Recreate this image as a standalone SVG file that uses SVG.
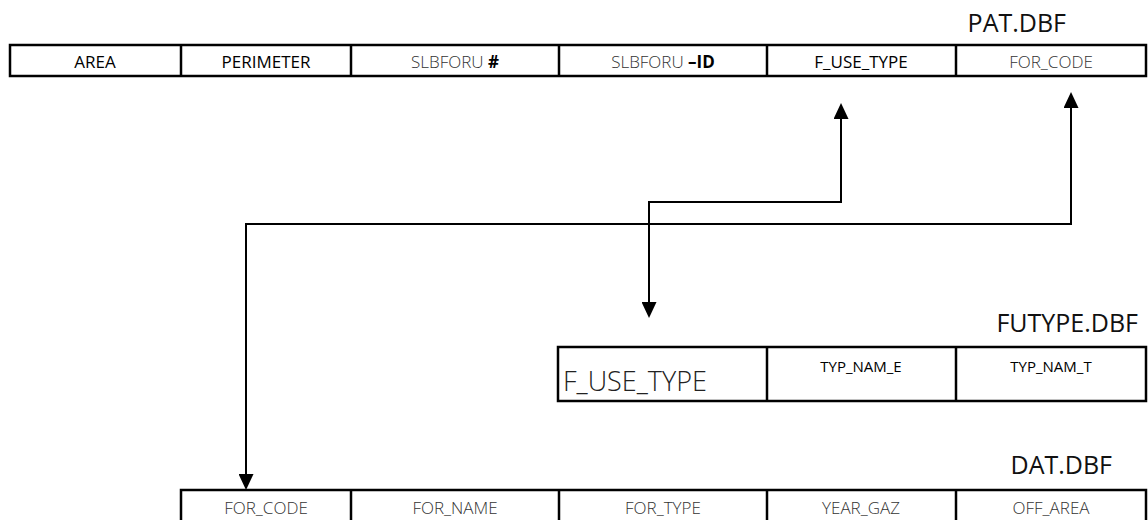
<svg xmlns="http://www.w3.org/2000/svg" width="1148" height="520" viewBox="0 0 1148 520">
<style>
.tbl{fill:#fff;stroke:#000;stroke-width:2.5}
.div{stroke:#000;stroke-width:2.5}
.t{font-family:"Open Sans","Noto Sans",sans-serif;text-anchor:middle;font-size:17px}
.dk{fill:#000;font-weight:500}
.lt{fill:#333;font-weight:300}
.b{font-weight:700;fill:#000}
.ttl{font-family:"Open Sans","Noto Sans",sans-serif;font-size:25px;fill:#111;text-anchor:end}
.conn{fill:none;stroke:#000;stroke-width:2}
</style>
<defs>
<marker id="arr" viewBox="0 0 16 15" refX="13" refY="7.5" markerWidth="16" markerHeight="15" markerUnits="userSpaceOnUse" orient="auto-start-reverse">
<path d="M0,0 L16,7.5 L0,15 z" fill="#000"/>
</marker>
</defs>
<rect width="1148" height="520" fill="#fff"/>
<g id="node-pat">
<text class="ttl" x="1066" y="32">PAT.DBF</text>
<rect class="tbl" x="10" y="45" width="1136" height="31"/>
<line class="div" x1="181" y1="45" x2="181" y2="76"/>
<line class="div" x1="351" y1="45" x2="351" y2="76"/>
<line class="div" x1="559" y1="45" x2="559" y2="76"/>
<line class="div" x1="767" y1="45" x2="767" y2="76"/>
<line class="div" x1="956" y1="45" x2="956" y2="76"/>
<text class="t dk" x="95" y="68">AREA</text>
<text class="t dk" x="266" y="68">PERIMETER</text>
<text class="t lt" x="455" y="68">SLBFORU <tspan class="b">#</tspan></text>
<text class="t lt" x="663" y="68">SLBFORU <tspan class="b">–ID</tspan></text>
<text class="t dk" x="861" y="68">F_USE_TYPE</text>
<text class="t lt" x="1051" y="68">FOR_CODE</text>
</g>
<g id="node-futype">
<text class="ttl" x="1138" y="332">FUTYPE.DBF</text>
<rect class="tbl" x="558" y="347" width="588" height="54"/>
<line class="div" x1="767" y1="347" x2="767" y2="401"/>
<line class="div" x1="956" y1="347" x2="956" y2="401"/>
<text x="563" y="391" style="font-family:'Open Sans','Noto Sans',sans-serif;font-size:27px;fill:#222;font-weight:300">F_USE_TYPE</text>
<text class="t" x="861" y="372" style="font-size:15px;fill:#000">TYP_NAM_E</text>
<text class="t" x="1051" y="372" style="font-size:15px;fill:#000">TYP_NAM_T</text>
</g>
<g id="node-dat">
<text class="ttl" x="1112" y="474">DAT.DBF</text>
<rect class="tbl" x="181" y="490" width="965" height="45"/>
<line class="div" x1="351" y1="490" x2="351" y2="520"/>
<line class="div" x1="559" y1="490" x2="559" y2="520"/>
<line class="div" x1="767" y1="490" x2="767" y2="520"/>
<line class="div" x1="956" y1="490" x2="956" y2="520"/>
<text class="t lt" x="266" y="514">FOR_CODE</text>
<text class="t lt" x="455" y="514">FOR_NAME</text>
<text class="t lt" x="663" y="514">FOR_TYPE</text>
<text class="t lt" x="861" y="514">YEAR_GAZ</text>
<text class="t lt" x="1051" y="514">OFF_AREA</text>
</g>
<g id="connectors">
<path class="conn" d="M649,315 V202 H841 V106" marker-start="url(#arr)" marker-end="url(#arr)"/>
<path class="conn" d="M246,487 V224 H1071 V95" marker-start="url(#arr)" marker-end="url(#arr)"/>
</g>
</svg>
